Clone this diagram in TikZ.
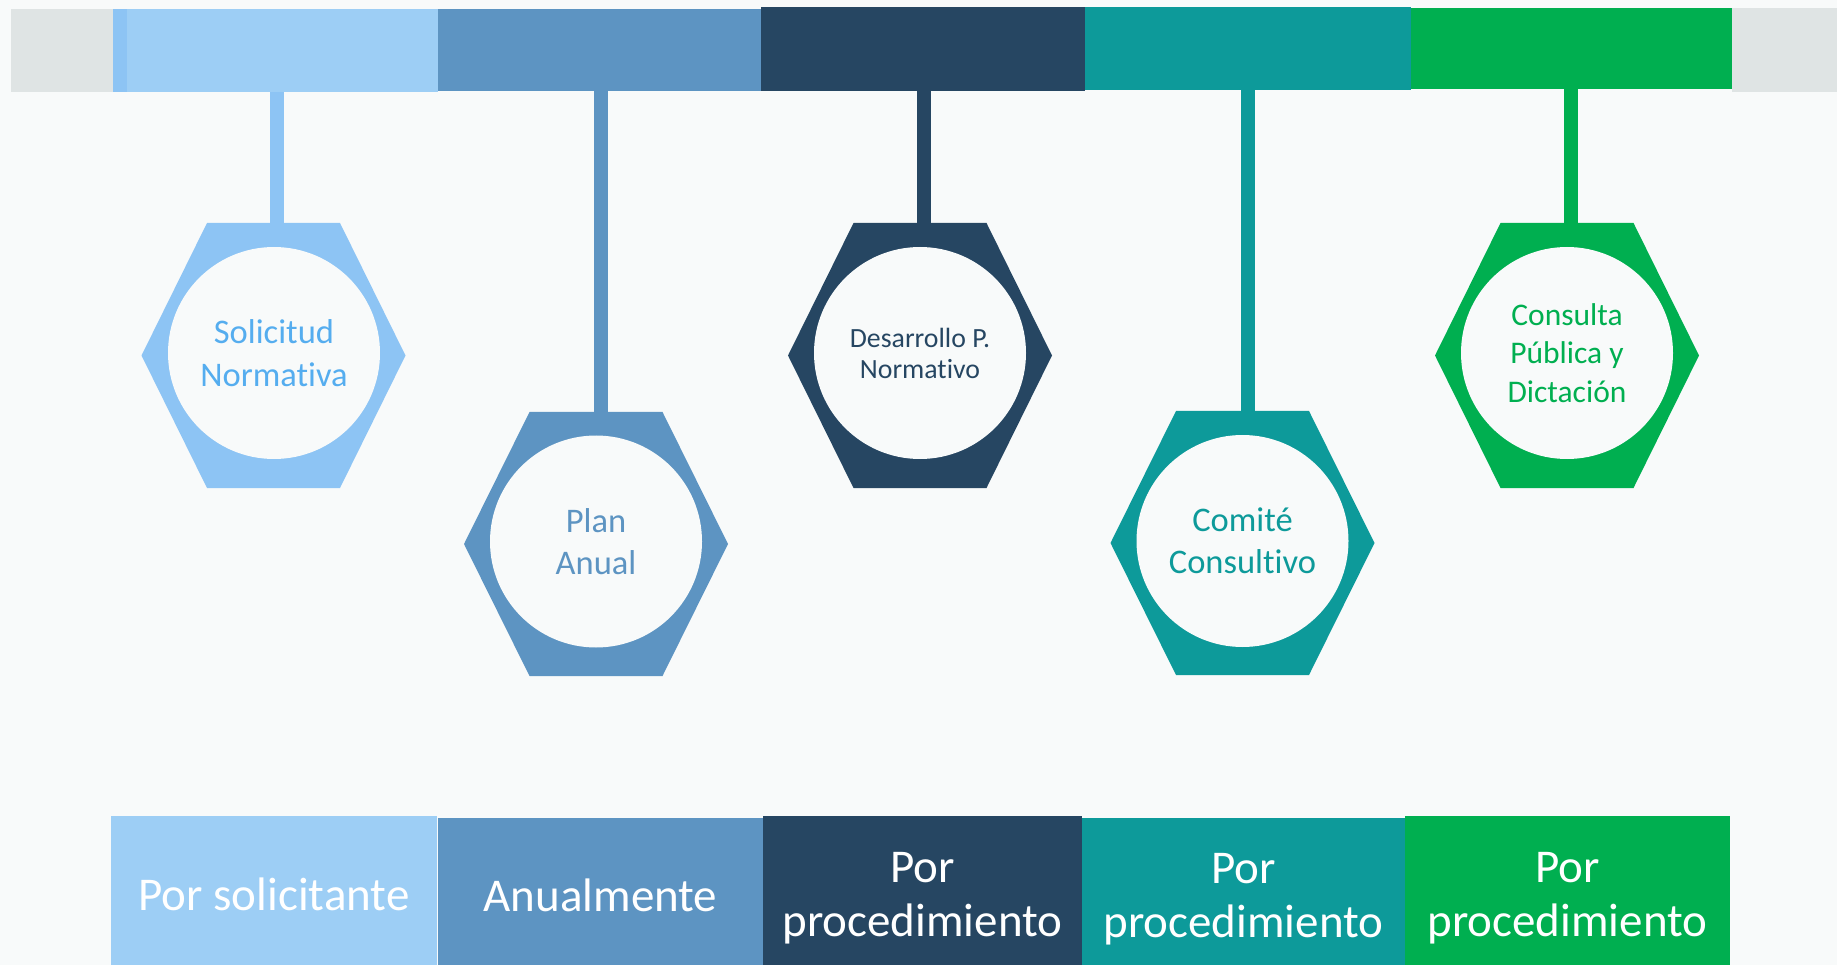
\documentclass[tikz,border=0pt]{standalone}
\usepackage{fontspec}
\setmainfont{Carlito}[Ligatures=NoCommon]
\definecolor{bgcol}{HTML}{F8FAFA}
\definecolor{greybar}{HTML}{DFE4E4}
\definecolor{barone}{HTML}{9DCEF5}
\definecolor{hexone}{HTML}{8DC4F4}
\definecolor{txtone}{HTML}{55ADEF}
\definecolor{bluetwo}{HTML}{5D94C2}
\definecolor{navythree}{HTML}{264662}
\definecolor{tealfour}{HTML}{0D9A9A}
\definecolor{greenfive}{HTML}{00AF50}

\begin{document}
\begin{tikzpicture}[x=1pt,y=-1pt,
    bar/.style={inner sep=0pt,minimum height=83pt},
    stem/.style={line width=14pt},
    disc/.style={circle,fill=bgcol,minimum size=212pt,inner sep=0pt,align=center},
    box/.style={inner sep=0pt,minimum height=157pt,text=white,align=center,
        text depth=0pt,font=\fontsize{47}{54}\selectfont}]
    \useasboundingbox (0,0) rectangle (1837,965);
    \fill[bgcol] (0,0) rectangle (1837,965);
    % top bar
    \fill[greybar] (11,9) rectangle (113,92);
    \fill[greybar] (1732,8) rectangle (1837,92);
    \node[bar,fill=barone,minimum width=325pt] (t1) at (275.5,50.5) {};
    \node[bar,fill=bluetwo,minimum width=323pt,minimum height=82pt] (t2) at (599.5,50) {};
    \node[bar,fill=navythree,minimum width=324pt,minimum height=84pt] (t3) at (923,49) {};
    \node[bar,fill=tealfour,minimum width=326pt] (t4) at (1248,48.5) {};
    \node[bar,fill=greenfive,minimum width=321pt,minimum height=81pt] (t5) at (1571.5,48.5) {};
    \fill[hexone] (113,9) rectangle (127,92);
    % hexagons
    \fill[hexone] (207,223) -- ++(133,0) -- ++(65.5,132.5) -- ++(-65.5,132.5)
        -- ++(-133,0) -- ++(-65.5,-132.5) -- cycle;
    \fill[bluetwo] (529.5,412) -- ++(133,0) -- ++(65.5,132) -- ++(-65.5,132)
        -- ++(-133,0) -- ++(-65.5,-132) -- cycle;
    \fill[navythree] (853.5,223) -- ++(133,0) -- ++(65.5,132.5) -- ++(-65.5,132.5)
        -- ++(-133,0) -- ++(-65.5,-132.5) -- cycle;
    \fill[tealfour] (1176,411) -- ++(133,0) -- ++(65.5,132) -- ++(-65.5,132)
        -- ++(-133,0) -- ++(-65.5,-132) -- cycle;
    \fill[greenfive] (1500.5,223) -- ++(133,0) -- ++(65.5,132.5) -- ++(-65.5,132.5)
        -- ++(-133,0) -- ++(-65.5,-132.5) -- cycle;
    \coordinate (h1) at (276.5,223);
    \coordinate (h2) at (601,412);
    \coordinate (h3) at (923.5,223);
    \coordinate (h4) at (1248,411);
    \coordinate (h5) at (1570.5,223);
    % stems
    \draw[stem,hexone] (t1.south -| h1) -- (h1);
    \draw[stem,bluetwo] (t2.south -| h2) -- (h2);
    \draw[stem,navythree] (t3.south -| h3) -- (h3);
    \draw[stem,tealfour] (t4.south -| h4) -- (h4);
    \draw[stem,greenfive] (t5.south -| h5) -- (h5);
    % circles
    \node[disc,text=txtone,font=\fontsize{34.5}{42.7}\selectfont] (c1) at (274,353) {Solicitud\\Normativa};
    \node[disc,text=bluetwo,font=\fontsize{34.5}{42.6}\selectfont] (c2) at (596,541.5) {Plan\\Anual};
    \node[disc,text=navythree,font=\fontsize{27.8}{31}\selectfont] (c3) at (920,353) {Desarrollo P.\\Normativo};
    \node[disc,text=tealfour,font=\fontsize{34.5}{42}\selectfont] (c4) at (1242.5,541) {Comité\\Consultivo};
    \node[disc,text=greenfive,font=\fontsize{31.5}{38.2}\selectfont] (c5) at (1567,353) {Consulta\\Pública y\\Dictación};
    % bottom boxes (run past the lower edge)
    \node[box,fill=barone,minimum width=326pt] (b1) at (274,894.5) {Por solicitante};
    \node[box,fill=bluetwo,minimum width=325pt,minimum height=155pt] (b2) at (600.5,895.5) {Anualmente};
    \node[box,fill=navythree,minimum width=319pt] (b3) at (922.5,894.5) {Por\\procedimiento};
    \node[box,fill=tealfour,minimum width=323pt,minimum height=155pt] (b4) at (1243.5,895.5) {Por\\procedimiento};
    \node[box,fill=greenfive,minimum width=325pt] (b5) at (1567.5,894.5) {Por\\procedimiento};
\end{tikzpicture}
\end{document}
